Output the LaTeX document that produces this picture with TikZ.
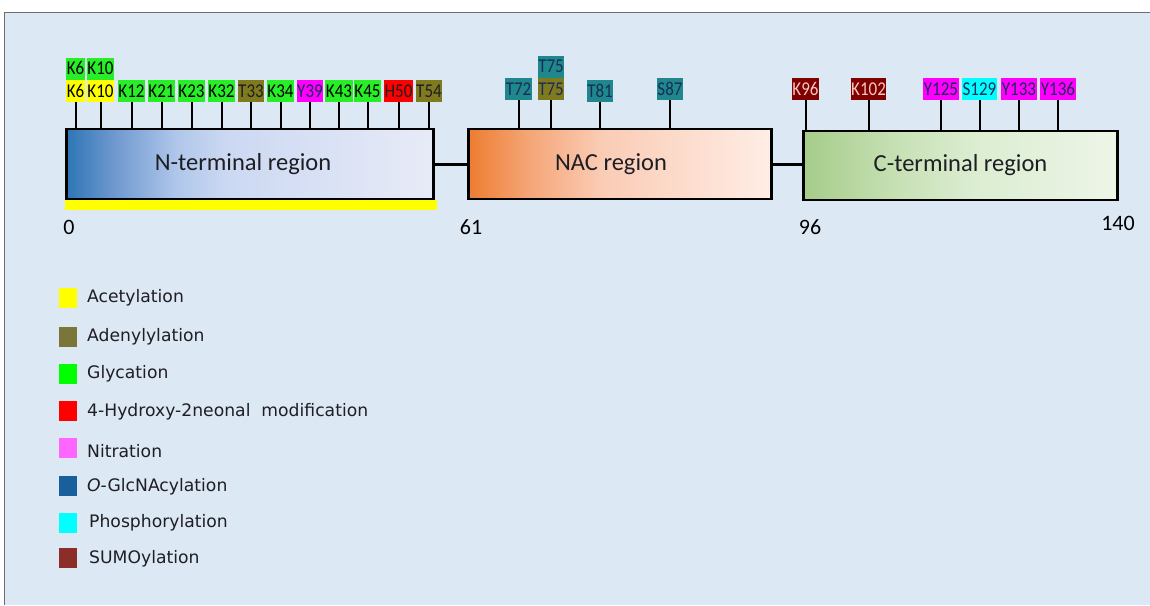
\documentclass[tikz,border=0pt]{standalone}
\usepackage{fontspec}
\setmainfont{Carlito}
\newfontfamily\legfont{DejaVu Sans}
\usetikzlibrary{calc}
\definecolor{bgblue}{RGB}{221,232,245}
\definecolor{framegray}{RGB}{110,110,110}
\definecolor{acet}{RGB}{255,255,0}
\definecolor{aden}{RGB}{122,118,58}
\definecolor{adenlab}{RGB}{128,122,30}
\definecolor{glyc}{RGB}{0,255,0}
\definecolor{glyclab}{RGB}{40,238,40}
\definecolor{hne}{RGB}{255,0,0}
\definecolor{nitr}{RGB}{255,102,255}
\definecolor{nitrlab}{RGB}{255,0,255}
\definecolor{oglc}{RGB}{24,95,155}
\definecolor{oglclab}{RGB}{30,136,140}
\definecolor{phos}{RGB}{0,255,255}
\definecolor{sumo}{RGB}{140,45,42}
\definecolor{sumolab}{RGB}{128,0,0}
\definecolor{sumotext}{RGB}{245,200,196}
\definecolor{navytext}{RGB}{25,45,90}
\definecolor{darktext}{RGB}{30,30,35}
\pgfdeclarehorizontalshading{nshade}{100bp}{rgb(0bp)=(0.18,0.46,0.71); rgb(25bp)=(0.18,0.46,0.71); rgb(32bp)=(0.45,0.61,0.82); rgb(40bp)=(0.69,0.78,0.92); rgb(47bp)=(0.80,0.85,0.95); rgb(75bp)=(0.91,0.92,0.97); rgb(100bp)=(0.91,0.92,0.97)}
\pgfdeclarehorizontalshading{nacshade}{100bp}{rgb(0bp)=(0.93,0.49,0.19); rgb(25bp)=(0.93,0.49,0.19); rgb(35bp)=(0.96,0.65,0.47); rgb(47bp)=(0.98,0.80,0.71); rgb(75bp)=(1.0,0.93,0.90); rgb(100bp)=(1.0,0.93,0.90)}
\pgfdeclarehorizontalshading{cshade}{100bp}{rgb(0bp)=(0.65,0.80,0.54); rgb(25bp)=(0.65,0.80,0.54); rgb(40bp)=(0.78,0.88,0.71); rgb(52bp)=(0.86,0.93,0.82); rgb(75bp)=(0.93,0.96,0.91); rgb(100bp)=(0.93,0.96,0.91)}
\tikzset{
  region/.style={draw=black, line width=2.5pt, inner sep=0pt, text=darktext, font=\fontsize{24.5}{24.5}\selectfont},
  conn/.style={line width=3pt},
  stem/.style={line width=2pt},
  site/.style={inner xsep=0.6pt, inner ysep=0pt, minimum height=22pt, text height=12pt, text depth=0pt, text=black, font=\fontsize{17}{17}\selectfont},
  numlab/.style={font=\fontsize{22}{22}\selectfont, text=black, inner sep=0pt},
  legsq/.style={minimum width=18pt, minimum height=20pt, inner sep=0pt},
  legtext/.style={anchor=west, inner sep=0pt, text=darktext, font=\legfont\fontsize{17.2}{17.2}\selectfont}
}
\newcommand{\tall}[1]{\scalebox{1}[1.15]{#1}}
\begin{document}
\begin{tikzpicture}[x=1pt,y=-1pt]
\useasboundingbox (0,0) rectangle (1150,605);
\fill[white] (0,0) rectangle (1150,605);
\fill[bgblue] (4,12) rectangle (1150,605);
\draw[framegray, line width=1pt] (4,605) -- (4,12) -- (1150,12);

% acetylation bar
\node[fill=acet, inner sep=0pt, minimum width=372pt, minimum height=10pt, anchor=north west] (acbar) at (65,200) {};

% regions
\node[region, shading=nshade, minimum width=367pt, minimum height=70pt] (nterm) at (250,164) {N-terminal region\kern14pt};
\node[region, shading=nacshade, minimum width=303pt, minimum height=70pt] (nac) at (620,164) {NAC region\kern18pt};
\node[region, shading=cshade, minimum width=314pt, minimum height=69pt] (cterm) at (960.5,165.5) {C-terminal region};
\draw[conn] (nterm.east) -- (nac.west);
\draw[conn] (nac.east) -- (nac.east -| cterm.west);

% numbers
\node[numlab] (n0) at (69,227) {0};
\node[numlab] (n61) at (471,227) {61};
\node[numlab] (n96) at (810,227) {96};
\node[numlab] (n140) at (1118,223) {140};

% N-terminal sites
\node[site, fill=acet] (k6) at (75.5,91) {\tall{K6}};
\node[site, fill=acet] (k10) at (100.5,91) {\tall{K10}};
\node[site, fill=glyclab, anchor=south] (k6g) at (k6.north) {\tall{K6}};
\node[site, fill=glyclab, anchor=south] (k10g) at (k10.north) {\tall{K10}};
\node[site, fill=glyclab] (k12) at (131.5,91) {\tall{K12}};
\node[site, fill=glyclab] (k21) at (161.5,91) {\tall{K21}};
\node[site, fill=glyclab] (k23) at (191.5,91) {\tall{K23}};
\node[site, fill=glyclab] (k32) at (221.5,91) {\tall{K32}};
\node[site, fill=adenlab, text=darktext] (t33) at (251,91) {\tall{T33}};
\node[site, fill=glyclab] (k34) at (280.5,91) {\tall{K34}};
\node[site, fill=nitrlab, text=navytext] (y39) at (310,91) {\tall{Y39}};
\node[site, fill=glyclab] (k43) at (339,91) {\tall{K43}};
\node[site, fill=glyclab] (k45) at (367.5,91) {\tall{K45}};
\node[site, fill=hne, text=darktext] (h50) at (398.5,91) {\tall{H50}};
\node[site, fill=adenlab, text=darktext] (t54) at (429,91) {\tall{T54}};
\foreach \s in {k6,k10,k12,k21,k23,k32,t33,k34,y39,k43,k45,h50,t54}
  \draw[stem] (\s.south) -- (\s.south |- nterm.north);

% NAC sites
\node[site, fill=oglclab, text=navytext] (t72) at (518.5,89) {\tall{T72}};
\node[site, fill=adenlab, text=navytext] (t75) at (551,89) {\tall{T75}};
\node[site, fill=oglclab, text=navytext, anchor=south] (t75g) at (t75.north) {\tall{T75}};
\node[site, fill=oglclab, text=navytext] (t81) at (600,91) {\tall{T81}};
\node[site, fill=oglclab, text=navytext] (s87) at (670,89) {\tall{S87}};
\foreach \s in {t72,t75,t81,s87}
  \draw[stem] (\s.south) -- (\s.south |- nac.north);

% C-terminal sites
\node[site, fill=sumolab, text=sumotext] (k96) at (805.5,89) {\tall{K96}};
\node[site, fill=sumolab, text=sumotext] (k102) at (868.5,89) {\tall{K102}};
\node[site, fill=nitrlab, text=navytext] (y125) at (941,89) {\tall{Y125}};
\node[site, fill=phos, text=navytext] (s129) at (979.5,89) {\tall{S129}};
\node[site, fill=nitrlab, text=navytext] (y133) at (1019,89) {\tall{Y133}};
\node[site, fill=nitrlab, text=navytext] (y136) at (1058,89) {\tall{Y136}};
\foreach \s in {k96,k102,y125,s129,y133,y136}
  \draw[stem] (\s.south) -- (\s.south |- cterm.north);

% legend
\node[legsq, fill=acet] (l1) at (68,298) {};
\node[legtext] (t1) at (87,298) {Acetylation};
\node[legsq, fill=aden] (l2) at (68,337) {};
\node[legtext] (t2) at (87,337) {Adenylylation};
\node[legsq, fill=glyc] (l3) at (68,374) {};
\node[legtext] (t3) at (87,374) {Glycation};
\node[legsq, fill=hne] (l4) at (68,411) {};
\node[legtext] (t4) at (87,412) {4-Hydroxy-2neonal\ \ modification};
\node[legsq, fill=nitr] (l5) at (68,448) {};
\node[legtext] (t5) at (87,451) {Nitration};
\node[legsq, fill=oglc] (l6) at (68,486) {};
\node[legtext] (t6) at (87,487) {\textit{O}-GlcNAcylation};
\node[legsq, fill=phos] (l7) at (68,523) {};
\node[legtext] (t7) at (89,523) {Phosphorylation};
\node[legsq, fill=sumo] (l8) at (68,558) {};
\node[legtext] (t8) at (89,559) {SUMOylation};
\end{tikzpicture}
\end{document}
